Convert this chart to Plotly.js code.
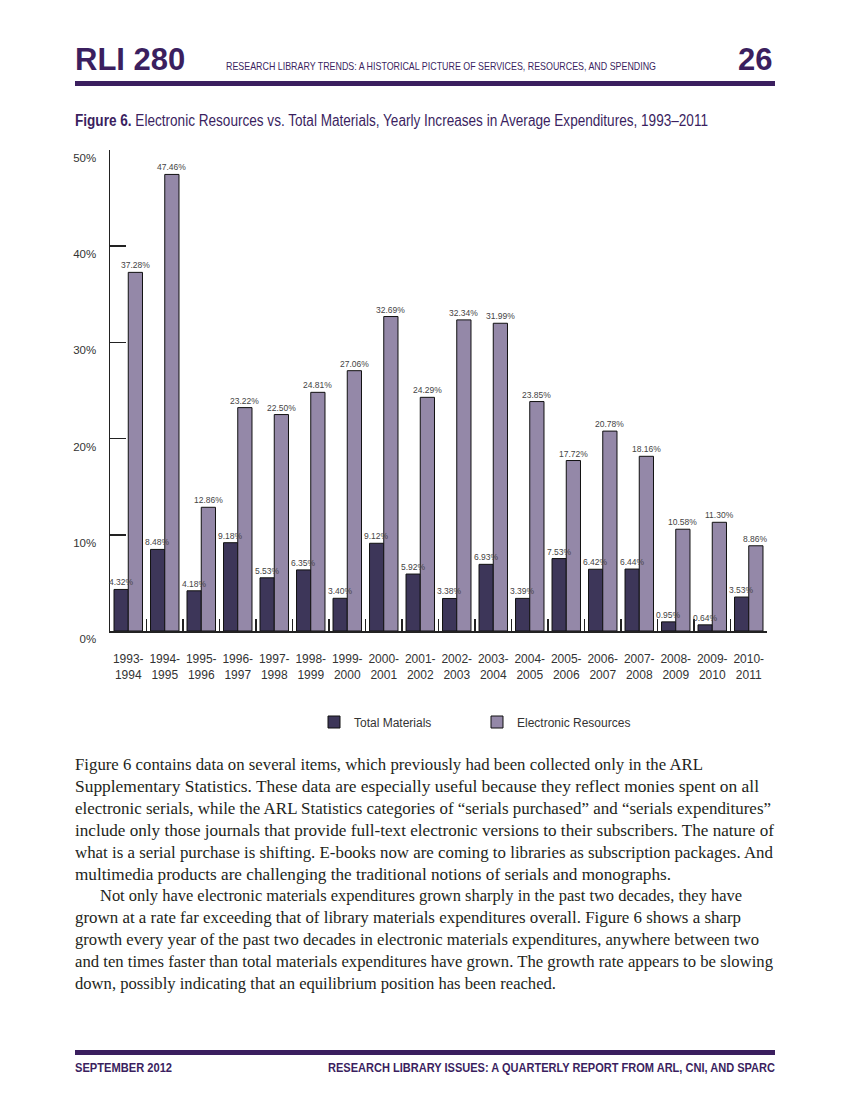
<!DOCTYPE html>
<html>
<head>
<meta charset="utf-8">
<script src="https://cdn.plot.ly/plotly-3.0.1.min.js"></script>
<style>
  html, body { margin:0; padding:0; background:#fff; }
  #page { position:relative; width:849px; height:1100px; overflow:hidden; }
  #chart { position:absolute; left:0; top:0; width:849px; height:1100px; }
  .t { position:absolute; white-space:nowrap; transform-origin:0 0; }
  .purple { color:#3b1f5f; }
  .rule { position:absolute; left:75px; width:700px; height:5px; background:#3b1f5f; }
  .body { font-family:"Liberation Serif", serif; font-size:16.9px; color:#231f20; }
</style>
</head>
<body>
<div id="page">
  <div id="chart"></div>
  <div class="t purple" id="hdrL" style="left:75px;top:42px;font-family:'Liberation Sans',sans-serif;font-weight:bold;font-size:31px;">RLI 280</div>
  <div class="t purple" id="hdrC" style="left:226px;top:60px;font-family:'Liberation Sans',sans-serif;font-size:11px;">RESEARCH LIBRARY TRENDS: A HISTORICAL PICTURE OF SERVICES, RESOURCES, AND SPENDING</div>
  <div class="t purple" id="hdrR" style="left:738px;top:42px;font-family:'Liberation Sans',sans-serif;font-weight:bold;font-size:31px;">26</div>
  <div class="rule" style="top:81px;"></div>
  <div class="t purple" id="title" style="left:75px;top:112px;font-family:'Liberation Sans',sans-serif;font-size:16px;"><b>Figure 6.</b> Electronic Resources vs. Total Materials, Yearly Increases in Average Expenditures, 1993–2011</div>
  <div id="bodytext"></div>
  <div class="rule" style="top:1050px;"></div>
  <div class="t purple" id="ftL" style="left:75px;top:1061px;font-family:'Liberation Sans',sans-serif;font-weight:bold;font-size:12px;">SEPTEMBER 2012</div>
  <div class="t purple" id="ftR" style="left:328px;top:1061px;font-family:'Liberation Sans',sans-serif;font-weight:bold;font-size:12px;">RESEARCH LIBRARY ISSUES: A QUARTERLY REPORT FROM ARL, CNI, AND SPARC</div>
</div>
<script>
// ---- data ----
var categories = ["1993-<br>1994","1994-<br>1995","1995-<br>1996","1996-<br>1997","1997-<br>1998","1998-<br>1999","1999-<br>2000","2000-<br>2001","2001-<br>2002","2002-<br>2003","2003-<br>2004","2004-<br>2005","2005-<br>2006","2006-<br>2007","2007-<br>2008","2008-<br>2009","2009-<br>2010","2010-<br>2011"];
var totalMaterials = [4.32, 8.48, 4.18, 9.18, 5.53, 6.35, 3.40, 9.12, 5.92, 3.38, 6.93, 3.39, 7.53, 6.42, 6.44, 0.95, 0.64, 3.53];
var electronicResources = [37.28, 47.46, 12.86, 23.22, 22.50, 24.81, 27.06, 32.69, 24.29, 32.34, 31.99, 23.85, 17.72, 20.78, 18.16, 10.58, 11.30, 8.86];
var yTickValues = [0, 10, 20, 30, 40, 50];
var yTickLabels = ["0%", "10%", "20%", "30%", "40%", "50%"];
var seriesNames = ["Total Materials", "Electronic Resources"];

var paragraphs = [
  ["Figure 6 contains data on several items, which previously had been collected only in the ARL",
   "Supplementary Statistics. These data are especially useful because they reflect monies spent on all",
   "electronic serials, while the ARL Statistics categories of “serials purchased” and “serials expenditures”",
   "include only those journals that provide full-text electronic versions to their subscribers. The nature of",
   "what is a serial purchase is shifting. E-books now are coming to libraries as subscription packages. And",
   "multimedia products are challenging the traditional notions of serials and monographs."],
  ["Not only have electronic materials expenditures grown sharply in the past two decades, they have",
   "grown at a rate far exceeding that of library materials expenditures overall. Figure 6 shows a sharp",
   "growth every year of the past two decades in electronic materials expenditures, anywhere between two",
   "and ten times faster than total materials expenditures have grown. The growth rate appears to be slowing",
   "down, possibly indicating that an equilibrium position has been reached."]
];
// right edges of the body lines in the reference page
var lineEnds = [[703, 759, 771, 774, 773, 671], [742, 741, 759, 773, 556]];

// ---- body text ----
(function(){
  var host = document.getElementById('bodytext');
  var top = 755, lh = 21.9, n = 0;
  paragraphs.forEach(function(p, pi){
    p.forEach(function(line, li){
      var d = document.createElement('div');
      var left = (pi > 0 && li === 0 ? 100 : 75);
      d.className = 't body';
      d.style.left = left + 'px';
      d.style.top = (top + n * lh) + 'px';
      d.textContent = line;
      host.appendChild(d);
      var cw = d.getBoundingClientRect().width;
      var target = lineEnds[pi][li] - left;
      if (cw > 0) d.style.transform = 'scaleX(' + (target / cw) + ')';
      n++;
    });
  });
})();

function fitWidth(id, w){
  var el = document.getElementById(id);
  var cw = el.getBoundingClientRect().width;
  if (cw > 0) el.style.transform = 'scaleX(' + (w / cw) + ')';
}
fitWidth('hdrC', 430);
fitWidth('title', 633);
fitWidth('ftL', 97);
fitWidth('ftR', 447);

// ---- chart ----
function fmt(v){ return v.toFixed(2) + '%'; }
var fontFam = "'Liberation Sans', sans-serif";
var traces = [
  {
    type: 'bar', name: seriesNames[0], x: categories, y: totalMaterials,
    marker: {color: '#3d3659', line: {color: '#111', width: 1}},
    hoverinfo: 'none'
  },
  {
    type: 'bar', name: seriesNames[1], x: categories, y: electronicResources,
    marker: {color: '#9488a8', line: {color: '#111', width: 1}},
    hoverinfo: 'none'
  }
];

// value labels above each bar (offset to the bar within its group)
var barOffsetPx = 7.1;
var annotations = [];
[totalMaterials, electronicResources].forEach(function(series, si){
  series.forEach(function(v, i){
    annotations.push({
      x: categories[i], y: v, xref: 'x', yref: 'y',
      text: fmt(v), showarrow: false,
      xanchor: 'center', yanchor: 'bottom',
      xshift: si === 0 ? -barOffsetPx : barOffsetPx, yshift: 0,
      font: {family: fontFam, size: 8.5, color: '#444'}
    });
  });
});

var layout = {
  width: 849, height: 1100,
  margin: {l: 110, r: 82, t: 150, b: 469, pad: 0},
  paper_bgcolor: 'rgba(0,0,0,0)', plot_bgcolor: 'rgba(0,0,0,0)',
  font: {family: fontFam, color: '#333'},
  barmode: 'group', bargap: 0.22, bargroupgap: 0,
  showlegend: true,
  annotations: annotations,
  legend: {
    orientation: 'h', x: (314 - 110) / 657, xanchor: 'left', y: (631 - 722) / 481, yanchor: 'middle',
    font: {family: fontFam, size: 12, color: '#333'},
    entrywidth: 118, entrywidthmode: 'pixels', traceorder: 'normal'
  },
  xaxis: {
    type: 'category', range: [-0.5, 17.5], fixedrange: true,
    showline: true, linecolor: '#222', linewidth: 1.5, mirror: false,
    ticks: 'inside', tickson: 'boundaries', ticklen: 12, tickwidth: 1.5, tickcolor: '#222',
    showgrid: false, zeroline: false, tickangle: 0,
    tickfont: {family: fontFam, size: 12, color: '#333'},
    ticklabelstandoff: 16
  },
  yaxis: {
    range: [0, 50], fixedrange: true,
    tickmode: 'array', tickvals: yTickValues, ticktext: yTickLabels,
    showline: true, linecolor: '#222', linewidth: 1.5,
    ticks: 'inside', ticklen: 16, tickwidth: 1.5, tickcolor: '#222',
    showgrid: false, zeroline: false,
    tickfont: {family: fontFam, size: 11.5, color: '#333'},
    ticklabelstandoff: 10, ticklabelshift: 8
  }
};

Plotly.newPlot('chart', traces, layout, {staticPlot: true, displayModeBar: false});
</script>
</body>
</html>
